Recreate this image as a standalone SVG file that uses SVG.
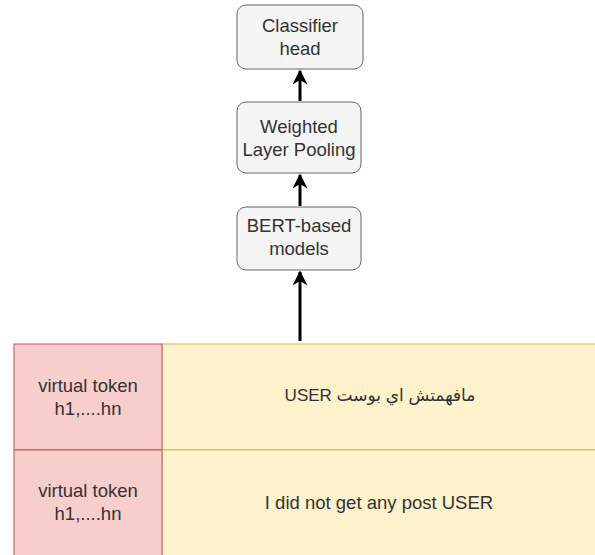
<svg xmlns="http://www.w3.org/2000/svg" width="595" height="555" viewBox="0 0 595 555">
<style>
.box{fill:#f5f5f5;stroke:#666666;stroke-width:1}
.red{fill:#f8cecc;stroke:#b85450;stroke-width:1}
.yel{fill:#fff2cc;stroke:#d6b656;stroke-width:1}
text{font-family:"Liberation Sans","DejaVu Sans",Arial,sans-serif;font-size:18.5px;fill:#333333;text-anchor:middle}
.ar{font-size:17px}
.edge{stroke:#000;stroke-width:3;fill:none}
</style>
<defs>
<marker id="ah" viewBox="0 0 10 10" refX="9" refY="5" markerWidth="5.5" markerHeight="5" orient="auto" markerUnits="strokeWidth">
<path d="M0,0 L10,5 L0,10 L3,5 Z" fill="#000"/>
</marker>
</defs>
<rect width="595" height="555" fill="#ffffff"/>
<g id="row1">
<rect class="yel" x="162" y="344" width="434" height="106"/>
<rect class="red" x="14" y="344" width="148" height="106"/>
<text x="88" y="392">virtual token</text>
<text x="88" y="415">h1,....hn</text>
<text class="ar" x="380" y="401">USER مافهمتش اي بوست</text>
</g>
<g id="row2">
<rect class="yel" x="162" y="450" width="434" height="106"/>
<rect class="red" x="14" y="450" width="148" height="106"/>
<text x="88" y="497">virtual token</text>
<text x="88" y="520">h1,....hn</text>
<text x="379" y="509">I did not get any post USER</text>
</g>
<g id="classifier">
<rect class="box" x="237" y="5" width="126" height="64" rx="9"/>
<text x="300" y="32">Classifier</text>
<text x="300" y="55">head</text>
</g>
<g id="pooling">
<rect class="box" x="237" y="102" width="124" height="71" rx="9"/>
<text x="299" y="133">Weighted</text>
<text x="299" y="156">Layer Pooling</text>
</g>
<g id="bert">
<rect class="box" x="237" y="207" width="124" height="63" rx="9"/>
<text x="299" y="232">BERT-based</text>
<text x="299" y="255">models</text>
</g>
<g id="connectors">
<line class="edge" x1="300" y1="341" x2="300" y2="272" marker-end="url(#ah)"/>
<line class="edge" x1="300" y1="206" x2="300" y2="175" marker-end="url(#ah)"/>
<line class="edge" x1="300" y1="101" x2="300" y2="71" marker-end="url(#ah)"/>
</g>
</svg>
